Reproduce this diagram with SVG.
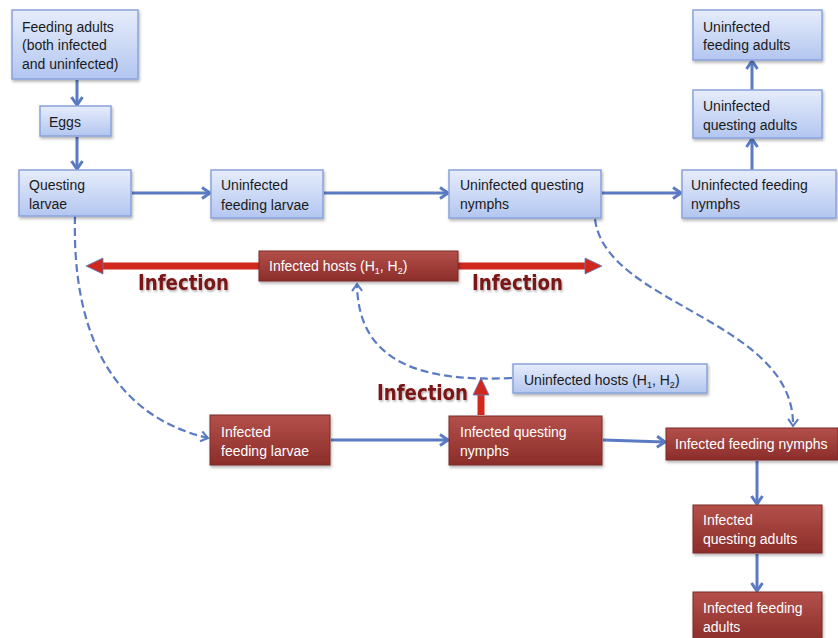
<svg xmlns="http://www.w3.org/2000/svg" width="838" height="638" viewBox="0 0 838 638">
<defs>
<linearGradient id="gb" x1="0" y1="0" x2="0" y2="1"><stop offset="0" stop-color="#e6edfb"/><stop offset="1" stop-color="#b3c6f0"/></linearGradient>
<linearGradient id="gr" x1="0" y1="0" x2="0" y2="1"><stop offset="0" stop-color="#b4504a"/><stop offset="1" stop-color="#8b2d2a"/></linearGradient>
<filter id="sh" x="-10%" y="-10%" width="130%" height="140%"><feDropShadow dx="1" dy="2" stdDeviation="1.5" flood-color="#000" flood-opacity="0.3"/></filter>
<filter id="ts" x="-10%" y="-20%" width="130%" height="150%"><feDropShadow dx="1" dy="1.5" stdDeviation="1" flood-color="#000" flood-opacity="0.35"/></filter>
<marker id="ah" markerUnits="userSpaceOnUse" markerWidth="14" markerHeight="14" refX="11" refY="7" orient="auto"><path d="M3,1.5 L11,7 L3,12.5" fill="none" stroke="#5a7bc3" stroke-width="3"/></marker>
<marker id="ad" markerUnits="userSpaceOnUse" markerWidth="14" markerHeight="14" refX="11" refY="7" orient="auto"><path d="M4,2 L11,7 L4,12" fill="none" stroke="#5a7bc3" stroke-width="2"/></marker>
<marker id="ar" markerUnits="userSpaceOnUse" markerWidth="22" markerHeight="22" refX="2" refY="11" orient="auto"><path d="M1,3 L18,11 L1,19 Z" fill="#d0281d" stroke="#5a7bc3" stroke-width="0.8"/></marker>
</defs>
<style>
.bb{fill:url(#gb);stroke:#8aa3db;stroke-width:1.5;filter:url(#sh)}
.rb{fill:url(#gr);stroke:#7a2a28;stroke-width:1;filter:url(#sh)}
.t{font-family:"Liberation Sans","Noto Sans",Arial,sans-serif;font-size:14px;fill:#1a1a1a}
.tw{font-family:"Liberation Sans","Noto Sans",Arial,sans-serif;font-size:14px;fill:#ffffff}
.inf{font-family:"DejaVu Sans","Liberation Sans",sans-serif;font-size:21px;font-weight:bold;fill:#7a1212;filter:url(#ts)}
.c{fill:none;stroke:#5a7bc3;stroke-width:3;marker-end:url(#ah)}
.d{fill:none;stroke:#5a7bc3;stroke-width:2.2;stroke-dasharray:8,4;marker-end:url(#ad)}
.ra{fill:none;stroke:#d0281d;stroke-width:7}
</style>
<g id="connectors">
<line class="c" x1="77" y1="80" x2="77" y2="105"/>
<line class="c" x1="77" y1="137" x2="77" y2="169"/>
<line class="c" x1="132" y1="193" x2="210" y2="193"/>
<line class="c" x1="324" y1="193" x2="448" y2="193"/>
<line class="c" x1="602" y1="193" x2="681" y2="193"/>
<line class="c" x1="752" y1="170" x2="752" y2="139"/>
<line class="c" x1="752" y1="90" x2="752" y2="61"/>
<line class="c" x1="331" y1="440" x2="448" y2="440"/>
<line class="c" x1="603" y1="440" x2="665" y2="442"/>
<line class="c" x1="757" y1="461" x2="757" y2="504"/>
<line class="c" x1="757" y1="554" x2="757" y2="591"/>
<path class="d" d="M75,216 C72,330 110,415 208,438"/>
<path class="d" d="M595,219 C605,305 795,320 793,426"/>
<path class="d" d="M512,378 C425,382 358,365 357,284"/>
<line class="ra" x1="259" y1="266" x2="102" y2="266" marker-end="url(#ar)"/>
<line class="ra" x1="458" y1="266" x2="586" y2="266" marker-end="url(#ar)"/>
<line class="ra" x1="481" y1="415" x2="481" y2="394" marker-end="url(#ar)"/>
</g>
<g id="feeding-adults"><rect class="bb" x="12" y="10" width="126" height="69"/><text class="t" x="22" y="32">Feeding adults</text><text class="t" x="22" y="50">(both infected</text><text class="t" x="22" y="69">and uninfected)</text></g>
<g id="eggs"><rect class="bb" x="40" y="106" width="71" height="30"/><text class="t" x="49" y="127">Eggs</text></g>
<g id="questing-larvae"><rect class="bb" x="19" y="170" width="112" height="46"/><text class="t" x="29" y="190">Questing</text><text class="t" x="29" y="209">larvae</text></g>
<g id="uninf-feeding-larvae"><rect class="bb" x="211" y="170" width="112" height="48"/><text class="t" x="221" y="190">Uninfected</text><text class="t" x="221" y="210">feeding larvae</text></g>
<g id="uninf-questing-nymphs"><rect class="bb" x="449" y="170" width="152" height="48"/><text class="t" x="460" y="190">Uninfected questing</text><text class="t" x="460" y="209">nymphs</text></g>
<g id="uninf-feeding-nymphs"><rect class="bb" x="682" y="170" width="154" height="48"/><text class="t" x="691" y="190">Uninfected feeding</text><text class="t" x="691" y="209">nymphs</text></g>
<g id="uninf-questing-adults"><rect class="bb" x="693" y="90" width="129" height="48"/><text class="t" x="703" y="111">Uninfected</text><text class="t" x="703" y="130">questing adults</text></g>
<g id="uninf-feeding-adults"><rect class="bb" x="693" y="10" width="129" height="50"/><text class="t" x="703" y="32">Uninfected</text><text class="t" x="703" y="50">feeding adults</text></g>
<g id="infected-hosts"><rect class="rb" x="259" y="251" width="199" height="30"/><text class="tw" x="269" y="271">Infected hosts (H<tspan font-size="9" dy="3">1</tspan><tspan dy="-3">, H</tspan><tspan font-size="9" dy="3">2</tspan><tspan dy="-3">)</tspan></text></g>
<g id="uninf-hosts"><rect class="bb" x="513" y="364" width="194" height="29"/><text class="t" x="524" y="385">Uninfected hosts (H<tspan font-size="9" dy="3">1</tspan><tspan dy="-3">, H</tspan><tspan font-size="9" dy="3">2</tspan><tspan dy="-3">)</tspan></text></g>
<g id="inf-feeding-larvae"><rect class="rb" x="210" y="415" width="120" height="50"/><text class="tw" x="221" y="437">Infected</text><text class="tw" x="221" y="456">feeding larvae</text></g>
<g id="inf-questing-nymphs"><rect class="rb" x="449" y="416" width="153" height="49"/><text class="tw" x="460" y="437">Infected questing</text><text class="tw" x="460" y="456">nymphs</text></g>
<g id="inf-feeding-nymphs"><rect class="rb" x="666" y="428" width="172" height="32"/><text class="tw" x="675" y="449">Infected feeding nymphs</text></g>
<g id="inf-questing-adults"><rect class="rb" x="693" y="505" width="129" height="48"/><text class="tw" x="703" y="525">Infected</text><text class="tw" x="703" y="544">questing adults</text></g>
<g id="inf-feeding-adults"><rect class="rb" x="693" y="592" width="129" height="50"/><text class="tw" x="703" y="613">Infected feeding</text><text class="tw" x="703" y="632">adults</text></g>
<g id="labels">
<text class="inf" x="138" y="290" textLength="91" lengthAdjust="spacingAndGlyphs">Infection</text>
<text class="inf" x="472" y="290" textLength="91" lengthAdjust="spacingAndGlyphs">Infection</text>
<text class="inf" x="377" y="400" textLength="91" lengthAdjust="spacingAndGlyphs">Infection</text>
</g>
</svg>
